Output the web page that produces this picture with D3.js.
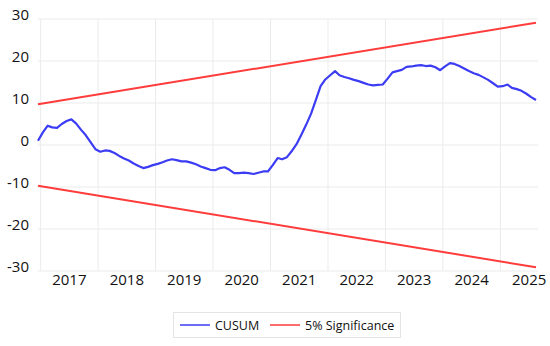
<!DOCTYPE html>
<html>
<head>
<meta charset="utf-8">
<script src="https://cdn.jsdelivr.net/npm/d3@7"></script>
<style>
  body { margin: 0; background: #fff; }
  text { font-family: "Open Sans", sans-serif; fill: #111; }
  .grid line { stroke: #ebebeb; stroke-width: 1; }
</style>
</head>
<body>
<div id="graph"></div>
<script>
// monthly CUSUM values, Dec 2016 .. Aug 2025
var startYear = 2016, startMonth = 11;
var cusum = [
  1.0, 3.0, 4.6, 4.2, 4.1, 5.0, 5.7, 6.1, 5.1, 3.6, 2.3, 0.6, -1.0,
  -1.6, -1.3, -1.4, -1.9, -2.6, -3.2, -3.7, -4.4, -5.0, -5.5, -5.2, -4.8,
  -4.5, -4.1, -3.7, -3.4, -3.6, -3.9, -3.9, -4.2, -4.6, -5.1, -5.5, -5.9,
  -6.0, -5.5, -5.3, -5.9, -6.7, -6.7, -6.6, -6.7, -6.9, -6.6, -6.3, -6.3,
  -4.8, -3.1, -3.4, -2.9, -1.5, 0.2, 2.4, 4.8, 7.4, 10.6, 14.0, 15.6,
  16.6, 17.6, 16.6, 16.2, 15.9, 15.5, 15.2, 14.8, 14.4, 14.2, 14.3, 14.4,
  15.8, 17.3, 17.6, 17.9, 18.6, 18.7, 18.9, 19.0, 18.8, 18.9, 18.5, 17.8,
  18.7, 19.5, 19.3, 18.8, 18.2, 17.6, 17.1, 16.7, 16.1, 15.5, 14.7, 13.9,
  14.0, 14.4, 13.6, 13.3, 12.9, 12.2, 11.4, 10.7
];
// 5% significance bounds at first and last observation
var upperBound = [9.7, 29.1];
var lowerBound = [-9.7, -29.1];
var yTicks = [-30, -20, -10, 0, 10, 20, 30];
var yearTicks = [2017, 2018, 2019, 2020, 2021, 2022, 2023, 2024, 2025];

var width = 550, height = 346;

var data = cusum.map(function(v, i) {
  return { date: new Date(startYear, startMonth + i, 15), value: v };
});
var first = data[0].date, last = data[data.length - 1].date;

var x = d3.scaleTime().domain([first, last]).range([38, 536]);
var y = d3.scaleLinear().domain([-30, 30]).range([271, 19]);

var svg = d3.select("#graph").append("svg")
    .attr("width", width)
    .attr("height", height);

// grid
var grid = svg.append("g").attr("class", "grid");
grid.selectAll(".hy").data(yTicks).enter().append("line")
    .attr("x1", 38).attr("x2", 538)
    .attr("y1", function(d) { return y(d); })
    .attr("y2", function(d) { return y(d); });
grid.selectAll(".vx").data(yearTicks).enter().append("line")
    .attr("x1", function(d) { return x(new Date(d, 0, 1)); })
    .attr("x2", function(d) { return x(new Date(d, 0, 1)); })
    .attr("y1", 19).attr("y2", 271);

// y labels
svg.append("g").selectAll("text").data(yTicks).enter().append("text")
    .attr("x", 29)
    .attr("y", function(d) { return y(d) + 1; })
    .attr("text-anchor", "end")
    .style("font-size", "15px")
    .text(function(d) { return d; });

// x labels centred on each year
svg.append("g").selectAll("text").data(yearTicks).enter().append("text")
    .attr("x", function(d) {
      return (x(new Date(d, 0, 1)) + x(new Date(d + 1, 0, 1))) / 2;
    })
    .attr("y", 285)
    .attr("text-anchor", "middle")
    .style("font-size", "15px")
    .text(function(d) { return d; });

var line = d3.line()
    .x(function(d) { return x(d.date); })
    .y(function(d) { return y(d.value); });

function bound(vals) {
  return [{ date: first, value: vals[0] }, { date: last, value: vals[1] }];
}

svg.append("path").datum(bound(upperBound))
    .attr("d", line).attr("fill", "none")
    .attr("stroke", "#ff3c3c").attr("stroke-width", 2);
svg.append("path").datum(bound(lowerBound))
    .attr("d", line).attr("fill", "none")
    .attr("stroke", "#ff3c3c").attr("stroke-width", 2);
svg.append("path").datum(data)
    .attr("d", line).attr("fill", "none")
    .attr("stroke", "#3c3cf5").attr("stroke-width", 2.2)
    .attr("stroke-linejoin", "round");

// legend
var legend = svg.append("g");
legend.append("rect")
    .attr("x", 173.5).attr("y", 312.5)
    .attr("width", 227).attr("height", 25)
    .attr("fill", "#fff").attr("stroke", "#e4e4e4");
var items = [
  { name: "CUSUM", color: "#3c3cf5", x: 180 },
  { name: "5% Significance", color: "#ff3c3c", x: 270 }
];
items.forEach(function(it) {
  legend.append("line")
      .attr("x1", it.x).attr("x2", it.x + 30)
      .attr("y1", 325).attr("y2", 325)
      .attr("stroke", it.color).attr("stroke-width", 1.5);
  legend.append("text")
      .attr("x", it.x + 35).attr("y", 329.5)
      .style("font-size", "12.5px")
      .text(it.name);
});
</script>
</body>
</html>
